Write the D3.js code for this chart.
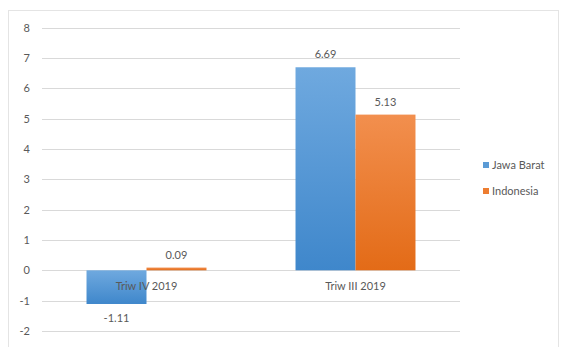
<!DOCTYPE html>
<html><head><meta charset="utf-8">
<script src="https://cdn.jsdelivr.net/npm/d3@7"></script>
<style>body{margin:0;background:#fff}svg{display:block}text{font-family:Lato,"Open Sans",sans-serif}</style>
</head><body><svg id="c" width="565" height="347"></svg>
<script>
const categories = ["Triw IV 2019", "Triw III 2019"];
const seriesNames = ["Jawa Barat", "Indonesia"];
const jawaBarat = [-1.11, 6.69];
const indonesia = [0.09, 5.13];
const yTicks = [-2, -1, 0, 1, 2, 3, 4, 5, 6, 7, 8];
const colors = ["#5b9bd5", "#ed7d31"];

const loc = d3.formatLocale({decimal: ".", thousands: ",", grouping: [3], currency: ["", ""], minus: "-"});
const fmtInt = loc.format("d");
const fmt2 = loc.format(".2f");

const svg = d3.select("#c");
const defs = svg.append("defs");
const grads = [["#6fa9df", "#3f87cb"], ["#f28f4e", "#e36b17"]];
grads.forEach((g, i) => {
  const lg = defs.append("linearGradient").attr("id", "g" + i).attr("x1", 0).attr("y1", 0).attr("x2", 0).attr("y2", 1);
  lg.append("stop").attr("offset", "0%").attr("stop-color", g[0]);
  lg.append("stop").attr("offset", "100%").attr("stop-color", g[1]);
});

svg.append("rect").attr("x", 8.5).attr("y", 10.5).attr("width", 550).attr("height", 345)
  .attr("fill", "#fff").attr("stroke", "#e4e4e4");

const x0 = d3.scaleBand().domain(categories).range([42, 460]).paddingInner(0.426).paddingOuter(0.213);
const x1 = d3.scaleBand().domain(seriesNames).range([0, x0.bandwidth()]);
const y = d3.scaleLinear().domain([-2, 8]).range([331, 27.5]);

const grid = svg.append("g");
grid.selectAll("line").data(yTicks).join("line")
  .attr("x1", 42).attr("x2", 460)
  .attr("y1", d => Math.round(y(d)) + 0.5).attr("y2", d => Math.round(y(d)) + 0.5)
  .attr("stroke", "#d9d9d9").attr("stroke-width", 1);

const yAxis = svg.append("g").attr("transform", "translate(42,0)")
  .call(d3.axisLeft(y).tickValues(yTicks).tickSize(0).tickPadding(12).tickFormat(fmtInt));
yAxis.select(".domain").remove();
yAxis.selectAll("text").attr("font-size", 11).attr("fill", "#595959").style("font-family", "Lato,'Open Sans',sans-serif");

const data = categories.map((c, i) => ({ c, vals: [jawaBarat[i], indonesia[i]] }));
const groups = svg.append("g").selectAll("g").data(data).join("g")
  .attr("transform", d => `translate(${x0(d.c)},0)`);
groups.selectAll("rect").data(d => d.vals.map((v, j) => ({ v, j }))).join("rect")
  .attr("x", d => x1(seriesNames[d.j]))
  .attr("width", x1.bandwidth())
  .attr("y", d => Math.min(y(d.v), y(0)))
  .attr("height", d => Math.abs(y(d.v) - y(0)))
  .attr("fill", d => `url(#g${d.j})`);

groups.selectAll("text.val").data(d => d.vals.map((v, j) => ({ v, j }))).join("text")
  .attr("class", "val")
  .attr("x", d => x1(seriesNames[d.j]) + x1.bandwidth() / 2)
  .attr("y", d => d.v >= 0 ? y(d.v) - 9 : y(d.v) + 18)
  .attr("text-anchor", "middle").attr("font-size", 11).attr("fill", "#595959")
  .text(d => fmt2(d.v));

const xAxis = svg.append("g").attr("transform", `translate(0,${y(0)})`)
  .call(d3.axisBottom(x0).tickSize(0).tickPadding(12));
xAxis.select(".domain").remove();
xAxis.selectAll("text").attr("font-size", 11).attr("fill", "#595959").style("font-family", "Lato,'Open Sans',sans-serif");

const legend = svg.append("g").attr("transform", "translate(483,160)");
seriesNames.forEach((s, i) => {
  const g = legend.append("g").attr("transform", `translate(0,${i * 26})`);
  g.append("rect").attr("width", 6).attr("height", 6).attr("y", 2).attr("fill", colors[i]);
  g.append("text").attr("x", 9).attr("y", 9).attr("font-size", 11).attr("fill", "#595959").text(s);
});
</script></body></html>
